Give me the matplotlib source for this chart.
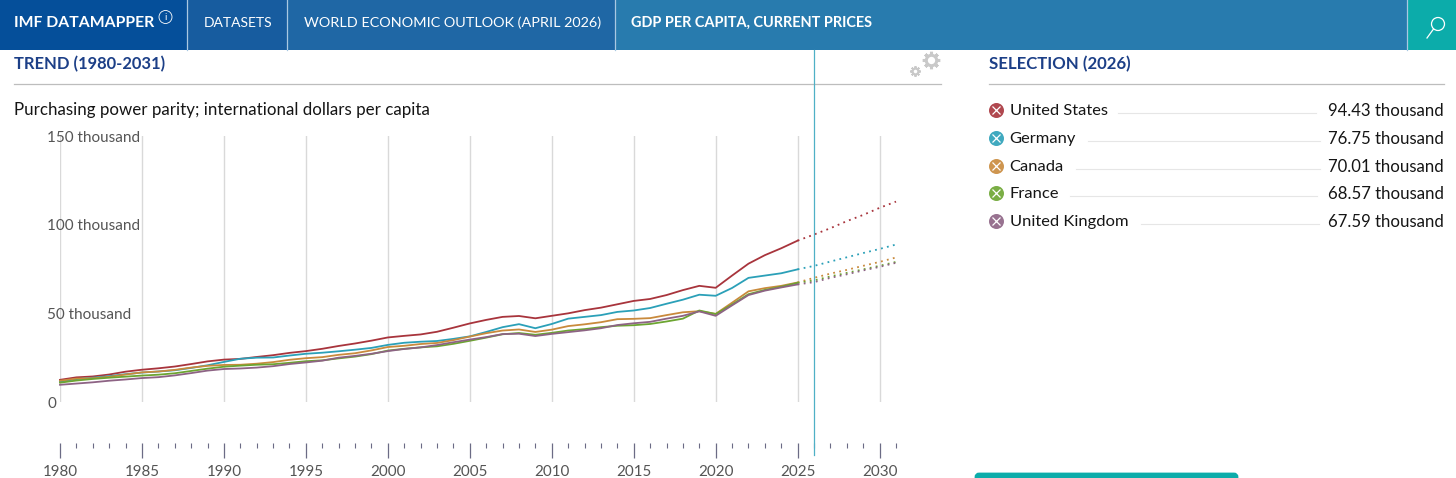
import numpy as np
import matplotlib
matplotlib.use("Agg")
import matplotlib.pyplot as plt
from matplotlib.patches import Rectangle, FancyBboxPatch, Circle

plt.rcParams['font.family'] = ['Lato', 'DejaVu Sans']

W, H = 1456, 478

years = np.arange(1980, 2032)
last_actual = 2025
selection_year = 2026

usa = [12.5, 13.9, 14.4, 15.5, 17.1, 18.2, 19.0, 20.0, 21.4, 22.9, 23.9, 24.3, 25.4, 26.4, 27.7, 28.7, 30.0, 31.6, 33.0, 34.6,
       36.4, 37.3, 38.1, 39.6, 41.9, 44.3, 46.3, 48.0, 48.5, 47.2, 48.6, 50.0, 51.8, 53.2, 55.1, 57.0, 58.1, 60.3, 63.1, 65.5,
       64.4, 71.3, 78.0, 82.8, 86.7, 91.0, 94.43, 98.0, 102.0, 105.5, 109.5, 113.0]
germany = [11.5, 12.9, 13.7, 14.6, 15.7, 16.6, 17.2, 17.9, 19.2, 20.7, 22.6, 24.4, 25.0, 25.1, 26.2, 27.2, 27.8, 28.6, 29.5, 30.5,
           32.2, 33.4, 34.0, 34.4, 35.6, 37.0, 39.5, 42.2, 43.9, 41.6, 44.0, 47.0, 48.0, 49.0, 50.8, 51.6, 53.0, 55.4, 57.7, 60.5,
           59.9, 64.3, 70.0, 71.3, 72.6, 74.8, 76.75, 79.2, 81.6, 84.0, 86.3, 88.8]
canada = [12.0, 13.2, 13.4, 14.2, 15.5, 16.7, 17.2, 18.1, 19.4, 20.4, 20.9, 21.0, 21.6, 22.5, 23.8, 24.7, 25.3, 26.6, 27.5, 29.1,
          31.0, 31.7, 32.7, 33.3, 34.9, 36.9, 38.8, 40.3, 40.9, 39.5, 40.8, 42.8, 43.8, 45.0, 46.7, 46.9, 47.3, 49.0, 50.6, 51.2,
          49.7, 56.0, 62.4, 64.2, 65.5, 67.4, 70.01, 72.4, 74.5, 76.8, 79.0, 81.5]
france = [10.9, 12.1, 13.0, 13.7, 14.3, 14.9, 15.4, 16.2, 17.5, 18.8, 19.9, 20.5, 21.0, 21.3, 22.1, 23.0, 23.5, 24.6, 25.6, 27.0,
          29.0, 30.0, 30.8, 31.4, 32.8, 34.5, 36.3, 38.2, 38.9, 37.9, 39.0, 40.3, 41.1, 42.2, 43.0, 43.3, 44.0, 45.4, 47.0, 51.6,
          49.6, 55.0, 60.8, 63.2, 65.0, 67.2, 68.57, 70.8, 72.8, 74.8, 76.8, 79.0]
uk = [9.7, 10.4, 11.1, 12.0, 12.7, 13.5, 14.0, 15.0, 16.3, 17.7, 18.6, 18.9, 19.4, 20.2, 21.4, 22.3, 23.3, 25.0, 26.0, 27.2,
      28.7, 29.9, 30.8, 32.1, 33.7, 35.2, 36.6, 38.3, 38.5, 37.2, 38.4, 39.4, 40.4, 41.6, 43.4, 44.4, 45.2, 47.0, 48.6, 51.1,
      48.6, 54.5, 60.3, 62.8, 64.6, 66.3, 67.59, 70.0, 72.0, 74.2, 76.2, 78.5]

names = ["United States", "Germany", "Canada", "France", "United Kingdom"]
series = [usa, germany, canada, france, uk]
colors = ["#a8343c", "#2ba0b8", "#c98a3c", "#6ca531", "#8d6384"]
legend_y = [110, 138, 165.5, 193, 221]
leader_end = [1316, 1320, 1320, 1317, 1319]
leader_start = [1118, 1088, 1076, 1070, 1141]

yticks = [0, 50, 100, 150]
ytick_labels = ["0", "50 thousand", "100 thousand", "150 thousand"]
header_text = "GDP PER CAPITA, CURRENT PRICES"
subtitle = "Purchasing power parity; international dollars per capita"

fig = plt.figure(figsize=(W / 100, H / 100), dpi=100)

# page furniture, in pixel coordinates
bg = fig.add_axes([0, 0, 1, 1])
bg.set_xlim(0, W)
bg.set_ylim(H, 0)
bg.axis("off")

sections = [(0, 187, "#054f9a"), (187, 287, "#175c9f"), (287, 615, "#1f67a5"), (615, 1407, "#287bae"), (1407, 1456, "#0cacaa")]
for x0, x1, c in sections:
    bg.add_patch(Rectangle((x0, 0), x1 - x0, 50, color=c, lw=0))
for x in [187, 287, 615, 1407]:
    bg.plot([x, x], [0, 50], color="#a9c8e2", lw=0.9)

bg.text(14, 23, "IMF DATAMAPPER", color="white", fontsize=11.3, fontweight="bold", va="center")
bg.add_patch(Circle((165.5, 17), 6.5, fill=False, ec="white", lw=0.6))
bg.text(165.5, 17, "i", color="white", fontsize=7, ha="center", va="center")
bg.text(204, 23, "DATASETS", color="white", fontsize=10, va="center")
bg.text(304, 23, "WORLD ECONOMIC OUTLOOK (APRIL 2026)", color="white", fontsize=10.35, va="center")
bg.text(631, 23, header_text, color="white", fontsize=10.45, fontweight="bold", va="center")

# search icon
bg.add_patch(Circle((1438, 24), 6.5, fill=False, ec="white", lw=0.9))
bg.plot([1433.5, 1427], [29, 38], color="white", lw=0.9)

bg.text(14, 64, "TREND (1980-2031)", color="#1c3f87", fontsize=11.9, fontweight="bold", va="center")
bg.text(989, 64, f"SELECTION ({selection_year})", color="#1c3f87", fontsize=12.05, fontweight="bold", va="center")
bg.plot([14, 941], [84, 84], color="#bdbdbd", lw=0.9)
bg.plot([989, 1444], [84, 84], color="#bdbdbd", lw=0.9)
bg.text(14, 110, subtitle, color="#151515", fontsize=12.2, va="center")

# gears
bg.plot([931], [60], marker=(8, 2, 0), ms=12.5, color="#c9c9c9", mew=2.2)
bg.plot([931], [60], marker="o", ms=7.5, mfc="white", mec="#c9c9c9", mew=2.2)
bg.plot([915], [71], marker=(8, 2, 0), ms=7.5, color="#c9c9c9", mew=1.4)
bg.plot([915], [71], marker="o", ms=4, mfc="white", mec="#c9c9c9", mew=1.4)

# button cut off by the bottom edge
bg.add_patch(FancyBboxPatch((976, 474), 261, 20, boxstyle="round,pad=0,rounding_size=3",
                            mutation_aspect=1, fc="#0cacaa", ec="#0cacaa", lw=2, clip_on=True))

# selection list
sel = list(years).index(selection_year)
for name, values, c, y, x0, x1 in zip(names, series, colors, legend_y, leader_start, leader_end):
    bg.plot([996], [y], marker="o", ms=10.8, color=c, mew=0, alpha=0.9)
    bg.plot([996], [y], marker="x", ms=6.2, color="white", mew=0.9)
    bg.text(1009.5, y + 1.2, name, color="#151515", fontsize=11.85, va="center")
    bg.plot([x0, x1], [y + 3, y + 3], color="#e6e6e6", lw=0.8)
    bg.text(1444, y + 1, f"{values[sel]:.2f} thousand", color="#151515", fontsize=12.1, ha="right", va="center")

# chart, 1980 at x=60, 2031 at x=896, 0 at y=402, 150 at y=136
ax = fig.add_axes([60 / W, (H - 402) / H, (896 - 60) / W, (402 - 136) / H])
ax.patch.set_alpha(0)
ax.set_xlim(1980, 2031)
ax.set_ylim(0, 150)
for side in ["top", "left", "right"]:
    ax.spines[side].set_visible(False)
ax.spines["bottom"].set_position(("outward", 40.5 * 0.72))
ax.spines["bottom"].set_visible(False)

ax.grid(axis="x", which="major", color="#d9d9d9", lw=1.0, zorder=0)
ax.set_axisbelow(True)
ax.set_xticks(np.arange(1980, 2031, 5))
ax.set_xticks(years, minor=True)
ax.tick_params(axis="x", which="major", length=14.5 * 0.72, width=0.9, color="#6b6b85",
               labelsize=10.9, labelcolor="#555555", pad=6)
ax.tick_params(axis="x", which="minor", length=4.5 * 0.72, width=0.8, color="#6b6b85")

ax.set_yticks(yticks)
ax.set_yticklabels(ytick_labels)
ax.tick_params(axis="y", length=0, pad=13 * 0.72, labelsize=11, labelcolor="#555555")
for t in ax.get_yticklabels():
    t.set_ha("left")

n = list(years).index(last_actual) + 1
for values, c in zip(series, colors):
    ax.plot(years[:n], values[:n], color=c, lw=1.3, clip_on=False, zorder=3)
    ax.plot(years[n - 1:], values[n - 1:], color=c, lw=1.3, ls=(0, (1.0, 2.4)), clip_on=False, zorder=3)

ax.axvline(selection_year, ymin=-(455 - 402) / 266, ymax=(402 - 50) / 266, color="#4fb0c6", lw=0.9, clip_on=False, zorder=4)

fig.savefig("out.png", dpi=100)
